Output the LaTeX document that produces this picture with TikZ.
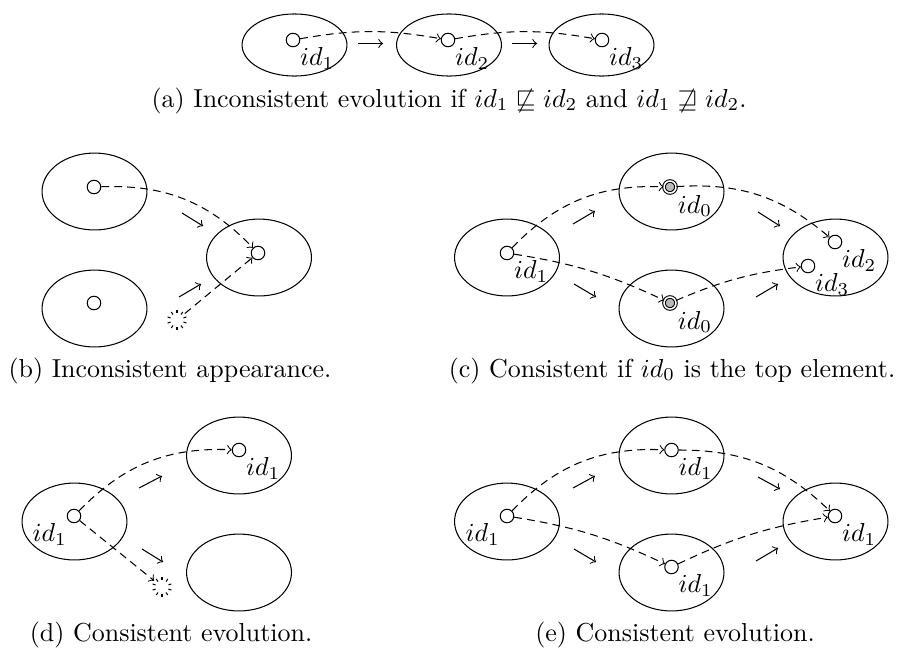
\documentclass[tikz,border=0pt]{standalone}
\usetikzlibrary{shapes.geometric}
\begin{document}
\begin{tikzpicture}[x=0.385pt,y=-0.385pt,
  world/.style={draw,ellipse,inner sep=0pt,minimum width=40.4pt,minimum height=29.6pt},
  worlda/.style={draw,ellipse,inner sep=0pt,minimum width=40.4pt,minimum height=23.9pt},
  elem/.style={draw,circle,fill=white,inner sep=0pt,minimum size=5.2pt},
  topel/.style={draw,circle,fill=gray!55,inner sep=0pt,minimum size=4.6pt,double,double distance=0.6pt},
  ghost/.style={circle,inner sep=0pt,minimum size=7.4pt},
  tick/.style={line width=0.4pt},
  trace/.style={->,dash pattern=on 3pt off 2pt},
  evo/.style={->},
  lbl/.style={inner sep=0.6pt},
  subcap/.style={anchor=base}]
\useasboundingbox (0,0) rectangle (898,655);

% ---------- (a) ----------
\node[worlda] (A1) at (294.5,45) {};
\node[worlda] (A2) at (449,45) {};
\node[worlda] (A3) at (601.5,45) {};
\node[elem] (a1) at (293,40) {};
\node[elem] (a2) at (448,40) {};
\node[elem] (a3) at (602,40) {};
\node[lbl,anchor=north west] (la1) at (a1.south east) {$id_1$};
\node[lbl,anchor=north west] (la2) at (a2.south east) {$id_2$};
\node[lbl,anchor=north west] (la3) at (a3.south east) {$id_3$};
\draw[trace] (a1) to[bend left=10] (a2);
\draw[trace] (a2) to[bend left=10] (a3);
\coordinate (ea1s) at (358,43.5); \coordinate (ea1e) at (383,43.5);
\coordinate (ea2s) at (512,43.5); \coordinate (ea2e) at (537,43.5);
\draw[evo] (ea1s) -- (ea1e);
\draw[evo] (ea2s) -- (ea2e);
\node[subcap] (capa) at (449,107) {(a) Inconsistent evolution if $id_1 \not\sqsubseteq id_2$ and $id_1 \not\sqsupseteq id_2$.};

% ---------- (b) ----------
\node[world] (B1) at (94.5,191.5) {};
\node[world] (B2) at (94.5,308.5) {};
\node[world] (B3) at (259,257.5) {};
\node[elem] (b1) at (94,187) {};
\node[elem] (b2) at (94,303) {};
\node[elem] (b3) at (258,253) {};
\node[ghost] (bg) at (177,320) {};
\foreach \ang in {18,54,...,342} \draw[tick,shift={(bg.center)}] (\ang:2.6pt) -- (\ang:3.8pt);
\draw[trace] (b1) to[bend left=24] (b3);
\draw[trace] (bg) to (b3);
\coordinate (eb1s) at (182,213); \coordinate (eb1e) at (203,226);
\coordinate (eb2s) at (179,297); \coordinate (eb2e) at (201,284);
\draw[evo] (eb1s) -- (eb1e);
\draw[evo] (eb2s) -- (eb2e);
\node[subcap] (capb) at (170,377) {(b) Inconsistent appearance.};

% ---------- (c) ----------
\node[world] (C1) at (507,257.5) {};
\node[world] (C2) at (671.5,191.5) {};
\node[world] (C3) at (671.5,308.5) {};
\node[world] (C4) at (835.5,257.5) {};
\node[elem] (c1) at (507,253) {};
\node[topel] (c2) at (670,187) {};
\node[topel] (c3) at (670,303) {};
\node[elem] (c4) at (835,242) {};
\node[elem] (c5) at (808,266) {};
\node[lbl,anchor=north west] (lc1) at (c1.south east) {$id_1$};
\node[lbl,anchor=north west] (lc2) at ([shift={(0.5pt,-0.5pt)}]c2.south east) {$id_0$};
\node[lbl,anchor=north west] (lc3) at ([shift={(0.5pt,-0.5pt)}]c3.south east) {$id_0$};
\node[lbl,anchor=north west] (lc4) at (c4.south east) {$id_2$};
\node[lbl,anchor=north west] (lc5) at (c5.south east) {$id_3$};
\draw[trace] (c1) to[bend left=24] (c2);
\draw[trace] (c1) to[bend left=8] (c3);
\draw[trace] (c2) to[bend left=22] (c4);
\draw[trace] (c3) to[bend left=8] (c5);
\coordinate (ec1s) at (573,224); \coordinate (ec1e) at (595,211);
\coordinate (ec2s) at (574,284); \coordinate (ec2e) at (596,297);
\coordinate (ec3s) at (758,212); \coordinate (ec3e) at (780,226);
\coordinate (ec4s) at (756,297); \coordinate (ec4e) at (778,284);
\draw[evo] (ec1s) -- (ec1e);
\draw[evo] (ec2s) -- (ec2e);
\draw[evo] (ec3s) -- (ec3e);
\draw[evo] (ec4s) -- (ec4e);
\node[subcap] (capc) at (672,377) {(c) Consistent if $id_0$ is the top element.};

% ---------- (d) ----------
\node[world] (D1) at (74.5,521.5) {};
\node[world] (D2) at (239,455.5) {};
\node[world] (D3) at (239,572.5) {};
\node[elem] (d1) at (74,516) {};
\node[elem] (d2) at (239,450) {};
\node[ghost] (dg) at (162,587) {};
\foreach \ang in {18,54,...,342} \draw[tick,shift={(dg.center)}] (\ang:2.6pt) -- (\ang:3.8pt);
\node[lbl,anchor=north east] (ld1) at (d1.south west) {$id_1$};
\node[lbl,anchor=north west] (ld2) at (d2.south east) {$id_1$};
\draw[trace] (d1) to[bend left=24] (d2);
\draw[trace] (d1) to (dg);
\coordinate (ed1s) at (139,488); \coordinate (ed1e) at (162,476);
\coordinate (ed2s) at (142,549); \coordinate (ed2e) at (163,562);
\draw[evo] (ed1s) -- (ed1e);
\draw[evo] (ed2s) -- (ed2e);
\node[subcap] (capd) at (171,641) {(d) Consistent evolution.};

% ---------- (e) ----------
\node[world] (E1) at (507,521.5) {};
\node[world] (E2) at (671.5,455.5) {};
\node[world] (E3) at (671.5,572.5) {};
\node[world] (E4) at (835.5,521.5) {};
\node[elem] (e1) at (507,516) {};
\node[elem] (e2) at (671.5,450) {};
\node[elem] (e3) at (671.5,567) {};
\node[elem] (e4) at (835,516) {};
\node[lbl,anchor=north east] (le1) at (e1.south west) {$id_1$};
\node[lbl,anchor=north west] (le2) at (e2.south east) {$id_1$};
\node[lbl,anchor=north west] (le3) at (e3.south east) {$id_1$};
\node[lbl,anchor=north west] (le4) at (e4.south east) {$id_1$};
\draw[trace] (e1) to[bend left=24] (e2);
\draw[trace] (e1) to[bend left=8] (e3);
\draw[trace] (e2) to[bend left=22] (e4);
\draw[trace] (e3) to[bend left=8] (e4);
\coordinate (ee1s) at (573,488); \coordinate (ee1e) at (595,476);
\coordinate (ee2s) at (574,549); \coordinate (ee2e) at (596,562);
\coordinate (ee3s) at (758,477); \coordinate (ee3e) at (780,489);
\coordinate (ee4s) at (756,561); \coordinate (ee4e) at (778,548);
\draw[evo] (ee1s) -- (ee1e);
\draw[evo] (ee2s) -- (ee2e);
\draw[evo] (ee3s) -- (ee3e);
\draw[evo] (ee4s) -- (ee4e);
\node[subcap] (cape) at (675,641) {(e) Consistent evolution.};
\end{tikzpicture}
\end{document}
